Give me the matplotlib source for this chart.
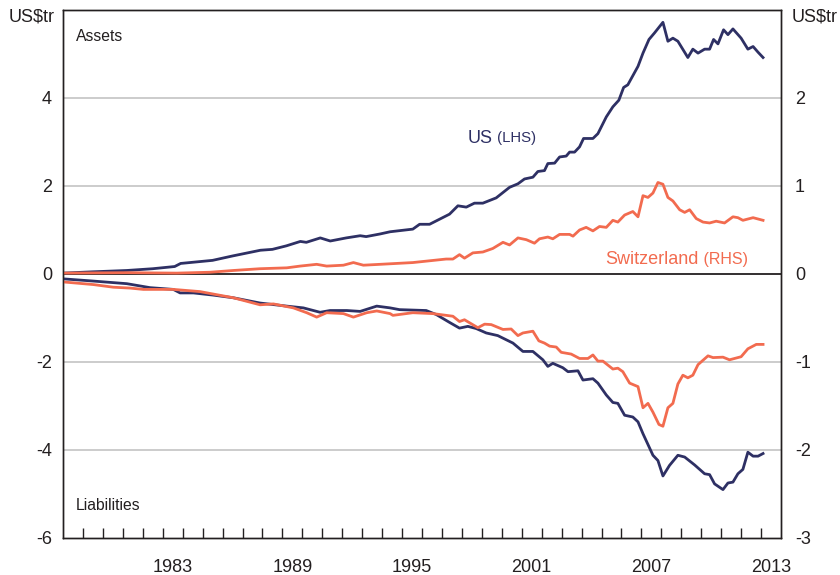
import matplotlib
matplotlib.use("Agg")
import matplotlib.pyplot as plt
import numpy as np

plt.rcParams['font.family'] = ['Liberation Sans', 'DejaVu Sans']

# US assets, US$tr (LHS)
us_assets_years = [1978.0, 1979.5, 1981.2, 1982.5, 1983.6, 1983.9, 1985.5, 1986.5, 1987.9, 1988.5,
                   1989.2, 1989.9, 1990.2, 1990.9, 1991.4, 1992.2, 1992.9, 1993.2, 1993.9, 1994.4,
                   1995.54, 1995.88, 1996.38, 1997.38, 1997.8, 1998.22, 1998.63, 1999.05, 1999.72, 2000.39,
                   2000.81, 2001.14, 2001.56, 2001.81, 2002.14, 2002.31, 2002.65, 2002.9, 2003.23, 2003.4,
                   2003.65, 2003.9, 2004.1, 2004.57, 2004.82, 2005.24, 2005.57, 2005.87, 2006.11, 2006.32,
                   2006.83, 2007.08, 2007.38, 2007.66, 2008.08, 2008.33, 2008.58, 2008.83, 2009.33, 2009.58,
                   2009.84, 2010.17, 2010.42, 2010.62, 2010.84, 2011.12, 2011.34, 2011.59, 2012.0, 2012.34,
                   2012.6, 2012.85, 2013.1]
us_assets = [0.02, 0.05, 0.08, 0.12, 0.17, 0.24, 0.31, 0.41, 0.54, 0.56,
             0.64, 0.74, 0.72, 0.82, 0.75, 0.82, 0.87, 0.85, 0.91, 0.96,
             1.02, 1.13, 1.13, 1.36, 1.55, 1.52, 1.61, 1.61, 1.73, 1.97,
             2.05, 2.16, 2.20, 2.33, 2.35, 2.51, 2.52, 2.66, 2.68, 2.77,
             2.77, 2.89, 3.08, 3.08, 3.19, 3.57, 3.80, 3.95, 4.24, 4.30,
             4.72, 5.02, 5.33, 5.48, 5.72, 5.29, 5.36, 5.29, 4.92, 5.11,
             5.02, 5.11, 5.11, 5.33, 5.23, 5.55, 5.44, 5.57, 5.36, 5.11,
             5.17, 5.04, 4.92]

# US liabilities, US$tr (LHS)
us_liab_years = [1978.0, 1979.5, 1981.2, 1982.36, 1983.53, 1983.87, 1984.54, 1985.54, 1986.54, 1987.88,
                 1989.22, 1990.05, 1990.89, 1991.39, 1992.23, 1992.9, 1993.73, 1994.4, 1994.87, 1996.21,
                 1996.71, 1997.38, 1997.88, 1998.3, 1998.72, 1999.22, 1999.8, 2000.56, 2001.06, 2001.56,
                 2002.06, 2002.31, 2002.56, 2003.06, 2003.32, 2003.82, 2004.07, 2004.57, 2004.82, 2005.24,
                 2005.57, 2005.82, 2006.16, 2006.57, 2006.83, 2007.08, 2007.58, 2007.83, 2008.08, 2008.41,
                 2008.83, 2009.17, 2009.67, 2010.17, 2010.42, 2010.67, 2011.09, 2011.34, 2011.59, 2011.84,
                 2012.09, 2012.34, 2012.6, 2012.85, 2013.1]
us_liab = [-0.11, -0.16, -0.22, -0.31, -0.35, -0.43, -0.43, -0.48, -0.54, -0.66,
           -0.73, -0.77, -0.87, -0.83, -0.83, -0.85, -0.73, -0.77, -0.81, -0.83,
           -0.92, -1.10, -1.23, -1.19, -1.24, -1.34, -1.40, -1.57, -1.76, -1.76,
           -1.95, -2.10, -2.03, -2.13, -2.22, -2.20, -2.41, -2.38, -2.48, -2.75,
           -2.92, -2.94, -3.21, -3.25, -3.36, -3.63, -4.12, -4.24, -4.59, -4.35,
           -4.12, -4.16, -4.34, -4.54, -4.56, -4.77, -4.90, -4.75, -4.73, -4.54,
           -4.44, -4.05, -4.14, -4.14, -4.08]

# Switzerland assets, US$tr (RHS)
ch_assets_years = [1978.0, 1981.2, 1983.7, 1985.37, 1986.54, 1987.88, 1989.22, 1989.89, 1990.72, 1991.22,
                   1992.06, 1992.56, 1993.06, 1993.9, 1995.54, 1997.21, 1997.55, 1997.88, 1998.13, 1998.55,
                   1999.05, 1999.55, 2000.06, 2000.39, 2000.81, 2001.23, 2001.64, 2001.89, 2002.31, 2002.56,
                   2002.9, 2003.4, 2003.57, 2003.9, 2004.23, 2004.57, 2004.9, 2005.24, 2005.57, 2005.82,
                   2006.16, 2006.57, 2006.83, 2007.08, 2007.33, 2007.58, 2007.83, 2008.08, 2008.33, 2008.58,
                   2008.92, 2009.17, 2009.42, 2009.75, 2010.09, 2010.42, 2010.75, 2011.17, 2011.59, 2011.84,
                   2012.09, 2012.6, 2013.1]
ch_assets = [0.01, 0.015, 0.01, 0.02, 0.04, 0.06, 0.07, 0.09, 0.11, 0.09,
             0.10, 0.13, 0.10, 0.11, 0.13, 0.17, 0.17, 0.22, 0.18, 0.24,
             0.25, 0.29, 0.36, 0.33, 0.41, 0.39, 0.35, 0.40, 0.42, 0.40,
             0.45, 0.45, 0.43, 0.50, 0.53, 0.49, 0.54, 0.53, 0.61, 0.59,
             0.67, 0.71, 0.65, 0.89, 0.87, 0.92, 1.04, 1.02, 0.87, 0.83,
             0.73, 0.70, 0.73, 0.63, 0.59, 0.58, 0.60, 0.58, 0.65, 0.64,
             0.61, 0.64, 0.61]

# Switzerland liabilities, US$tr (RHS)
ch_liab_years = [1978.0, 1979.52, 1980.52, 1981.36, 1982.03, 1983.53, 1984.87, 1986.54, 1987.88, 1988.55,
                 1989.55, 1990.22, 1990.72, 1991.22, 1992.06, 1992.56, 1993.23, 1993.73, 1994.4, 1994.54,
                 1995.54, 1996.55, 1997.55, 1997.88, 1998.13, 1998.8, 1999.14, 1999.47, 2000.06, 2000.47,
                 2000.81, 2001.06, 2001.56, 2001.86, 2002.14, 2002.4, 2002.73, 2002.98, 2003.48, 2003.9,
                 2004.32, 2004.57, 2004.82, 2005.07, 2005.57, 2005.82, 2006.07, 2006.41, 2006.83, 2007.08,
                 2007.33, 2007.58, 2007.88, 2008.08, 2008.33, 2008.58, 2008.83, 2009.08, 2009.33, 2009.58,
                 2009.84, 2010.34, 2010.59, 2011.09, 2011.42, 2012.0, 2012.34, 2012.76, 2013.1]
ch_liab = [-0.09, -0.12, -0.15, -0.16, -0.175, -0.175, -0.20, -0.27, -0.35, -0.34,
           -0.385, -0.44, -0.49, -0.44, -0.45, -0.49, -0.44, -0.42, -0.45, -0.47,
           -0.44, -0.45, -0.48, -0.54, -0.52, -0.61, -0.57, -0.575, -0.63, -0.625,
           -0.70, -0.67, -0.65, -0.76, -0.785, -0.82, -0.83, -0.89, -0.91, -0.96,
           -0.96, -0.92, -0.99, -0.99, -1.08, -1.07, -1.11, -1.24, -1.28, -1.52,
           -1.47, -1.57, -1.71, -1.73, -1.52, -1.47, -1.25, -1.15, -1.18, -1.15,
           -1.03, -0.93, -0.95, -0.945, -0.975, -0.94, -0.85, -0.80, -0.80]

year_labels = [1983, 1989, 1995, 2001, 2007, 2013]
left_ticks = [-6, -4, -2, 0, 2, 4]
right_ticks = [-3, -2, -1, 0, 1, 2]

navy = "#2e3064"
coral = "#f26b4f"
text_col = "#231f20"

fig = plt.figure(figsize=(8.4, 5.75), dpi=100)
ax = fig.add_axes([63 / 840, 1 - 538 / 575, (781 - 63) / 840, (538 - 10) / 575])
ax2 = ax.twinx()

ax.set_xlim(1978, 2014)
ax.set_ylim(-6, 6)
ax2.set_ylim(-3, 3)

# grid lines and zero line
for v in [-4, -2, 2, 4]:
    ax.axhline(v, color="#c4c4c4", lw=1.2, zorder=0)
ax.axhline(0, color=text_col, lw=1.3, zorder=1)

ax.plot(us_assets_years, us_assets, color=navy, lw=2.0, zorder=3)
ax.plot(us_liab_years, us_liab, color=navy, lw=2.0, zorder=3)
ax2.plot(ch_assets_years, ch_assets, color=coral, lw=2.0)
ax2.plot(ch_liab_years, ch_liab, color=coral, lw=2.0)

# y axes
ax.set_yticks(left_ticks)
ax.set_yticklabels([str(v) for v in left_ticks])
ax2.set_yticks(right_ticks)
ax2.set_yticklabels([str(v) for v in right_ticks])
ax.tick_params(axis="y", length=0, pad=8, labelsize=13, labelcolor=text_col)
ax2.tick_params(axis="y", length=0, pad=10, labelsize=13, labelcolor=text_col)

# x axis: year ticks inside, labels centred on the year
ax.set_xticks(np.arange(1979, 2014), minor=True)
ax.set_xticks([y + 0.5 for y in year_labels])
ax.set_xticklabels([str(y) for y in year_labels])
ax.tick_params(axis="x", which="major", length=0, pad=15, labelsize=13, labelcolor=text_col)
ax.tick_params(axis="x", which="minor", direction="in", length=7, width=1.0, color=text_col)

for a in (ax, ax2):
    for s in a.spines.values():
        s.set_color(text_col)
        s.set_linewidth(1.0)

fig.text(55 / 840, 1 - 17 / 575, "US$tr", ha="right", va="center", fontsize=13, color=text_col)
fig.text(792 / 840, 1 - 17 / 575, "US$tr", ha="left", va="center", fontsize=13, color=text_col)

ax.text(1978.65, 5.39, "Assets", fontsize=11.3, color=text_col, va="center")
ax.text(1978.65, -5.26, "Liabilities", fontsize=11.3, color=text_col, va="center")

t = ax.text(1998.3, 3.09, "US", fontsize=13, color=navy, va="center")
ax.annotate(" (LHS)", xycoords=t, xy=(1, 0.5), va="center", fontsize=10.7, color=navy)
t2 = ax.text(2005.2, 0.34, "Switzerland", fontsize=13, color=coral, va="center")
ax.annotate(" (RHS)", xycoords=t2, xy=(1, 0.5), va="center", fontsize=11.5, color=coral)

fig.savefig("out.png", dpi=100)
